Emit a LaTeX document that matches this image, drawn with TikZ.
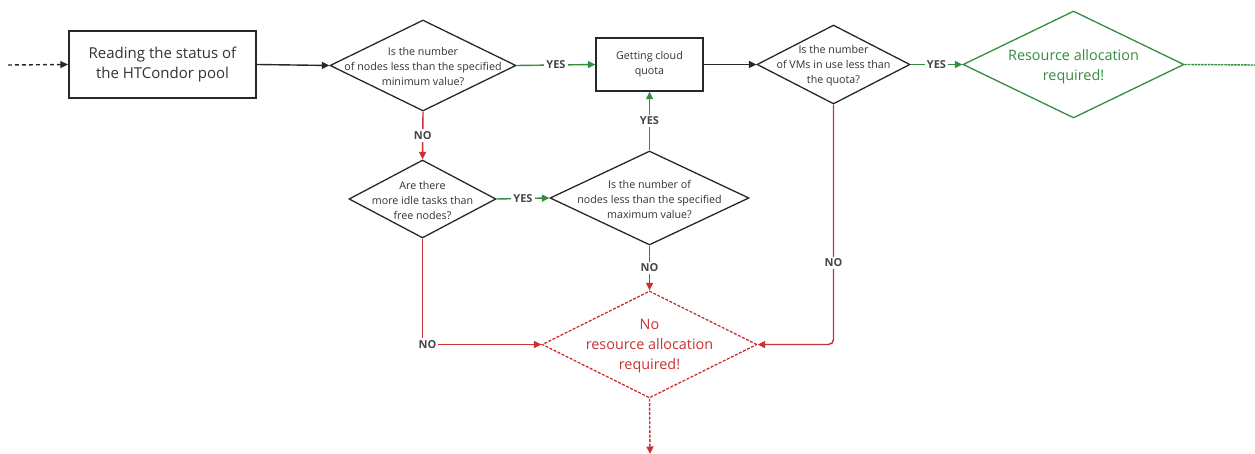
\documentclass[tikz,border=0pt]{standalone}
\usepackage{fontspec}
\setmainfont{Open Sans}
\usetikzlibrary{shapes.geometric,arrows.meta}
\definecolor{cred}{RGB}{200,50,50}
\definecolor{cgreen}{RGB}{52,140,62}
\definecolor{cdark}{RGB}{40,40,40}
\definecolor{clabel}{RGB}{70,70,70}
\definecolor{ctext}{RGB}{50,50,50}
\begin{document}
\begin{tikzpicture}[x=1pt,y=-1pt,
  small/.style={font=\fontsize{10.7}{15}\selectfont,text=ctext},
  big/.style={font=\fontsize{14.4}{20}\selectfont,yshift=-2pt},
  dia/.style 2 args={diamond,draw=cdark,line width=1.3pt,inner sep=0pt,minimum width=#1,minimum height=#2},
  box/.style 2 args={rectangle,draw=cdark,line width=1.3pt,inner sep=0pt,minimum width=#1,minimum height=#2,align=center},
  tip/.style={-{Triangle[length=7.5pt,width=7pt]}},
  blk/.style={tip,draw=cdark,line width=1.4pt},
  grn/.style={tip,draw=cgreen,line width=1.4pt},
  rd/.style={tip,draw=cred,line width=1.4pt},
  lbl/.style={font=\fontsize{11}{12}\selectfont\bfseries,text=clabel,fill=white,inner sep=2pt},
  txt/.style={align=center,small,yshift=-1.5pt}
]
\useasboundingbox (0,0) rectangle (1255,454);

\coordinate (start) at (8,65);
\coordinate (endG) at (1255,65);
\coordinate (endB) at (650,454);

\node[box={187}{67},line width=2.2pt,font=\fontsize{15}{20}\selectfont,text=ctext] (b1) at (162.5,64.5) {Reading the status of\\the HTCondor pool};
\node[dia={186}{91},label={[txt]center:Is the number\\of nodes less than the specified\\minimum value?}] (d1) at (423,65.5) {};
\node[box={107}{53},small,align=center] (b2) at (649.5,64.5) {Getting cloud\\quota};
\node[dia={153}{79},label={[txt]center:Is the number\\of VMs in use less than\\the quota?}] (d3) at (833.5,64.5) {};
\node[dia={221}{107},draw=cgreen,label={[align=center,big,text=cgreen]center:Resource allocation\\required!}] (d4) at (1073.5,64.5) {};
\node[dia={147}{78},label={[txt]center:Are there\\more idle tasks than\\free nodes?}] (d2) at (422.5,199) {};
\node[dia={199}{94},label={[txt]center:Is the number of\\nodes less than the specified\\maximum value?}] (d5) at (649.5,198) {};
\node[dia={215}{107},draw=cred,dash pattern=on 3pt off 1.5pt,label={[align=center,big,text=cred]center:No\\resource allocation\\required!}] (d6) at (649.5,344.5) {};

\draw[blk,dash pattern=on 4pt off 3pt] (start) -- (b1.west);
\draw[blk] (b1.east) -- (d1.west);
\draw[grn] (d1.east) -- node[lbl]{YES} (b2.west);
\draw[blk] (b2.east) -- (d3.west);
\draw[grn] (d3.east) -- node[lbl]{YES} (d4.west);
\draw[draw=cgreen,line width=1.4pt,dash pattern=on 2.5pt off 0.8pt] (d4.east) -- (endG);
\draw[rd] (d1.south) -- node[lbl]{NO} (d2.north);
\draw[grn] (d2.east) -- node[lbl]{YES} (d5.west);
\draw[grn] (d5.north) -- node[lbl]{YES} (b2.south);
\draw[rd] (d5.south) -- node[lbl]{NO} (d6.north);
\draw[rd] (d2.south) |- node[lbl,pos=0.5,xshift=5pt]{NO} (d6.west);
\draw[rd,rounded corners=5pt] (d3.south) |- node[lbl,pos=0.33]{NO} (d6.east);
\draw[rd,dash pattern=on 3pt off 1.5pt] (d6.south) -- (endB);
\end{tikzpicture}
\end{document}
